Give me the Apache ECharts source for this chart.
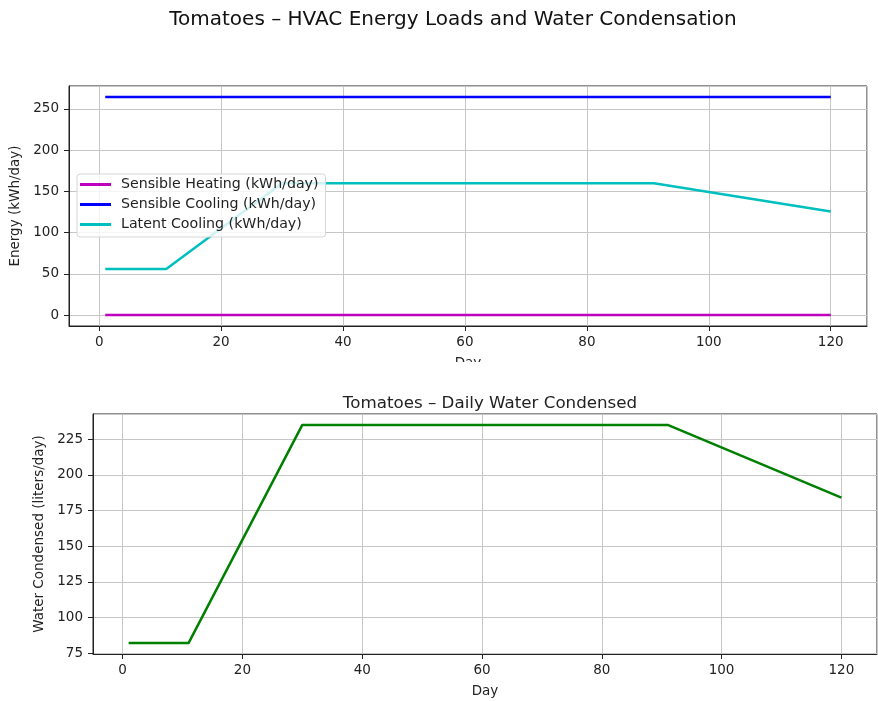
<!DOCTYPE html>
<html>
<head>
<meta charset="utf-8">
<script src="https://cdn.jsdelivr.net/npm/echarts@6/dist/echarts.min.js"></script>
<style>
html,body{margin:0;padding:0;background:#fff;}
#chart{width:878px;height:701px;}
</style>
</head>
<body>
<div id="chart"></div>
<script>
// ---- data ----
const heatingDays = [1, 120];
const heatingValues = [0, 0];
const coolingDays = [1, 120];
const coolingValues = [264.5, 264.5];
const latentDays = [1, 11, 30, 91, 120];
const latentValues = [56, 56, 160, 160, 125.5];
const waterDays = [1, 11, 30, 91, 120];
const waterValues = [82, 82, 235, 235, 184];

const seriesNames = ['Sensible Heating (kWh/day)', 'Sensible Cooling (kWh/day)', 'Latent Cooling (kWh/day)'];
const mainTitle = 'Tomatoes – HVAC Energy Loads and Water Condensation';
const subTitle = 'Tomatoes – Daily Water Condensed';

const pairs = (xs, ys) => xs.map((x, i) => [x, ys[i]]);

const FONT = 'DejaVu Sans';
const TXT = '#222';
const GRIDC = '#c6c6c6';

function xAx(gridIndex) {
  return {
    type: 'value', gridIndex,
    min: -4.95, max: 125.95,
    minInterval: 20, maxInterval: 20,
    name: 'Day', nameLocation: 'middle', nameGap: 30,
    nameTextStyle: {fontFamily: FONT, fontSize: 13.5, color: TXT},
    axisLine: {show: true, onZero: false, lineStyle: {color: '#222', width: 1}},
    axisTick: {show: true, length: 5, lineStyle: {color: '#222'}},
    axisLabel: {fontFamily: FONT, fontSize: 13.5, color: TXT, margin: 9, showMinLabel: false, showMaxLabel: false},
    splitLine: {show: true, lineStyle: {color: GRIDC, width: 1}}
  };
}
function yAx(gridIndex, min, max, step, name, gap) {
  return {
    type: 'value', gridIndex,
    min, max,
    minInterval: step, maxInterval: step,
    name, nameLocation: 'middle', nameGap: gap,
    nameTextStyle: {fontFamily: FONT, fontSize: 13.5, color: TXT},
    axisLine: {show: true, onZero: false, lineStyle: {color: '#222', width: 1}},
    axisTick: {show: true, length: 5, lineStyle: {color: '#222'}},
    axisLabel: {fontFamily: FONT, fontSize: 13.5, color: TXT, margin: 10, showMinLabel: false, showMaxLabel: false},
    splitLine: {show: true, lineStyle: {color: GRIDC, width: 1}}
  };
}

const chart = echarts.init(document.getElementById('chart'), null, {renderer: 'canvas'});
chart.setOption({
  animation: false,
  backgroundColor: '#fff',
  title: [
    {text: mainTitle, left: 448, textAlign: 'center', top: 5,
     textStyle: {fontFamily: FONT, fontSize: 20, fontWeight: 'normal', color: '#111'}},
    {text: subTitle, left: 485, textAlign: 'center', top: 390,
     textStyle: {fontFamily: FONT, fontSize: 16.7, fontWeight: 'normal', color: '#222'}}
  ],
  grid: [
    {left: 69, right: 11, top: 86, height: 240, show: true, borderColor: '#222', borderWidth: 1, backgroundColor: 'transparent'},
    {left: 93, right: 1, top: 414, height: 240, show: true, borderColor: '#222', borderWidth: 1, backgroundColor: 'transparent'}
  ],
  xAxis: [xAx(0), xAx(1)],
  yAxis: [
    yAx(0, -13.2, 277.8, 50, 'Energy (kWh/day)', 45),
    yAx(1, 74.35, 242.65, 25, 'Water Condensed (liters/day)', 45)
  ],
  legend: {
    data: seriesNames,
    orient: 'vertical',
    left: 77, top: 174,
    icon: 'rect', itemWidth: 31, itemHeight: 3, itemGap: 5,
    padding: [3, 7, 5, 3],
    backgroundColor: 'rgba(255,255,255,0.8)',
    borderColor: '#d5d5d5', borderWidth: 1, borderRadius: 3,
    textStyle: {fontFamily: FONT, fontSize: 14.2, color: TXT, lineHeight: 15, padding: [0, 0, 0, 5]}
  },
  graphic: [
    {type: 'rect', shape: {x: 0, y: 362, width: 878, height: 24}, style: {fill: '#fff'}, z: 100}
  ],
  series: [
    {name: seriesNames[0], type: 'line', xAxisIndex: 0, yAxisIndex: 0, data: pairs(heatingDays, heatingValues),
     showSymbol: false, lineStyle: {color: '#bf00bf', width: 2.5}, itemStyle: {color: '#bf00bf'}},
    {name: seriesNames[1], type: 'line', xAxisIndex: 0, yAxisIndex: 0, data: pairs(coolingDays, coolingValues),
     showSymbol: false, lineStyle: {color: '#0000ff', width: 2.5}, itemStyle: {color: '#0000ff'}},
    {name: seriesNames[2], type: 'line', xAxisIndex: 0, yAxisIndex: 0, data: pairs(latentDays, latentValues),
     showSymbol: false, lineStyle: {color: '#00bfbf', width: 2.5}, itemStyle: {color: '#00bfbf'}},
    {name: 'Water', type: 'line', xAxisIndex: 1, yAxisIndex: 1, data: pairs(waterDays, waterValues),
     showSymbol: false, lineStyle: {color: '#008000', width: 2.5}, itemStyle: {color: '#008000'}}
  ]
});
</script>
</body>
</html>
